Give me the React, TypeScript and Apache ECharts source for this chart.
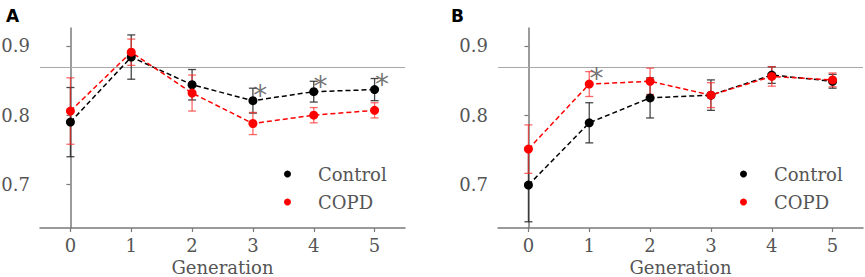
import React, { useEffect, useRef } from "react";
import * as echarts from "echarts";

const generations = [0, 1, 2, 3, 4, 5];
const tickValuesY = [0.7, 0.8, 0.9];
const referenceLevel = 0.866;

const controlA = [0.79, 0.884, 0.844, 0.821, 0.834, 0.837];
const controlAErr = [0.05, 0.032, 0.022, 0.018, 0.015, 0.016];
const copdA = [0.806, 0.891, 0.832, 0.788, 0.8, 0.807];
const copdAErr = [0.048, 0.019, 0.026, 0.016, 0.011, 0.011];

const controlB = [0.699, 0.789, 0.825, 0.829, 0.858, 0.849];
const controlBErr = [0.053, 0.029, 0.029, 0.022, 0.012, 0.01];
const copdB = [0.751, 0.845, 0.849, 0.829, 0.856, 0.851];
const copdBErr = [0.035, 0.018, 0.019, 0.018, 0.014, 0.01];

const starsAX = [3.12, 4.11, 5.12];
const starsAY = [0.838, 0.851, 0.855];
const starsBX = [1.12];
const starsBY = [0.863];

const SERIF = "DejaVu Serif";
const AXIS_GRAY = "#7a7a7a";
const TEXT_GRAY = "#555555";

function errData(vals: number[], errs: number[]) {
  return generations.map((g, i) => [g, vals[i] - errs[i], vals[i] + errs[i]]);
}

function errSeries(idx: number, name: string, vals: number[], errs: number[], color: string) {
  return {
    type: "custom",
    name,
    xAxisIndex: idx,
    yAxisIndex: idx,
    z: 2,
    silent: true,
    data: errData(vals, errs),
    encode: { x: 0, y: [1, 2] },
    renderItem: (params: any, api: any) => {
      const x = api.value(0);
      const lo = api.coord([x, api.value(1)]);
      const hi = api.coord([x, api.value(2)]);
      const cap = 4;
      const style = { stroke: color, lineWidth: 1.3 };
      return {
        type: "group",
        children: [
          { type: "line", shape: { x1: lo[0], y1: lo[1], x2: hi[0], y2: hi[1] }, style },
          { type: "line", shape: { x1: lo[0] - cap, y1: lo[1], x2: lo[0] + cap, y2: lo[1] }, style },
          { type: "line", shape: { x1: hi[0] - cap, y1: hi[1], x2: hi[0] + cap, y2: hi[1] }, style },
        ],
      };
    },
  };
}

function lineSeries(idx: number, name: string, vals: number[], color: string, withRef: boolean) {
  const s: any = {
    type: "line",
    name,
    xAxisIndex: idx,
    yAxisIndex: idx,
    z: 3,
    data: generations.map((g, i) => [g, vals[i]]),
    symbol: "circle",
    symbolSize: 9,
    itemStyle: { color },
    lineStyle: { color, width: 1.5, type: [5, 3] },
  };
  if (withRef) {
    s.markLine = {
      silent: true,
      symbol: "none",
      label: { show: false },
      lineStyle: { color: "#a8a8a8", width: 1, type: "solid" },
      data: [{ yAxis: referenceLevel }],
      z: 1,
    };
  }
  return s;
}

function starSeries(idx: number, xs: number[], ys: number[]) {
  return {
    type: "scatter",
    xAxisIndex: idx,
    yAxisIndex: idx,
    symbolSize: 1,
    itemStyle: { color: "rgba(0,0,0,0)" },
    silent: true,
    z: 4,
    data: xs.map((x, i) => [x, ys[i]]),
    label: {
      show: true,
      position: "inside",
      formatter: "*",
      color: "#505050",
      fontFamily: "DejaVu Sans",
      fontSize: 28,
      offset: [0, 7],
    },
  };
}

function xAxis(idx: number) {
  return {
    type: "value",
    gridIndex: idx,
    min: -0.5,
    max: 5.5,
    name: "Generation",
    nameLocation: "middle",
    nameGap: 30,
    nameTextStyle: { fontFamily: SERIF, fontSize: 18, color: TEXT_GRAY },
    splitLine: { show: false },
    axisLine: { show: true, lineStyle: { color: AXIS_GRAY, width: 1.5 } },
    axisTick: { show: true, length: 4, customValues: generations, lineStyle: { color: AXIS_GRAY, width: 1.2 } },
    axisLabel: {
      customValues: generations,
      margin: 8,
      fontFamily: SERIF,
      fontSize: 18,
      color: TEXT_GRAY,
    },
  };
}

function yAxis(idx: number) {
  return {
    type: "value",
    gridIndex: idx,
    min: 0.637,
    max: 0.926,
    splitLine: { show: false },
    axisLine: { show: true, lineStyle: { color: AXIS_GRAY, width: 1.5 } },
    axisTick: { show: true, length: 4, customValues: tickValuesY, lineStyle: { color: AXIS_GRAY, width: 1.2 } },
    axisLabel: {
      customValues: tickValuesY,
      formatter: (v: number) => v.toFixed(1),
      margin: 10,
      fontFamily: SERIF,
      fontSize: 18,
      color: TEXT_GRAY,
    },
  };
}

function legend(left: number) {
  return {
    left,
    top: 159,
    orient: "vertical",
    itemWidth: 7,
    itemHeight: 7,
    itemGap: 8,
    icon: "circle",
    selectedMode: false,
    data: [
      { name: "Control", itemStyle: { color: "#000" } },
      { name: "COPD", itemStyle: { color: "#ff0000" } },
    ],
    textStyle: {
      fontFamily: SERIF,
      fontSize: 18,
      lineHeight: 20,
      color: TEXT_GRAY,
      padding: [0, 0, 0, 22],
    },
  };
}

export default function App() {
  const ref = useRef<HTMLDivElement>(null);
  useEffect(() => {
    if (!ref.current) return;
    const chart = echarts.init(ref.current, undefined, { renderer: "svg" });
    chart.setOption({
      animation: false,
      backgroundColor: "#ffffff",
      title: [
        { text: "A", left: 1, top: 2, textStyle: { fontFamily: "DejaVu Sans", fontWeight: "bold", fontSize: 17, color: "#000" } },
        { text: "B", left: 446, top: 2, textStyle: { fontFamily: "DejaVu Sans", fontWeight: "bold", fontSize: 17, color: "#000" } },
      ],
      grid: [
        { left: 40, top: 28, width: 365, height: 200, outerBoundsMode: "none", containLabel: false },
        { left: 498, top: 28, width: 365, height: 200, outerBoundsMode: "none", containLabel: false },
      ],
      xAxis: [xAxis(0), xAxis(1)],
      yAxis: [yAxis(0), yAxis(1)],
      legend: [legend(279), legend(735)],
      series: [
        errSeries(0, "ControlErrA", controlA, controlAErr, "rgba(40,40,40,0.85)"),
        errSeries(0, "COPDErrA", copdA, copdAErr, "rgba(255,40,40,0.7)"),
        lineSeries(0, "Control", controlA, "#000000", true),
        lineSeries(0, "COPD", copdA, "#ff0000", false),
        starSeries(0, starsAX, starsAY),
        errSeries(1, "ControlErrB", controlB, controlBErr, "rgba(40,40,40,0.85)"),
        errSeries(1, "COPDErrB", copdB, copdBErr, "rgba(255,40,40,0.7)"),
        lineSeries(1, "Control", controlB, "#000000", true),
        lineSeries(1, "COPD", copdB, "#ff0000", false),
        starSeries(1, starsBX, starsBY),
      ],
    });
    return () => chart.dispose();
  }, []);
  return (
    <div
      ref={ref}
      style={{ position: "absolute", left: 0, top: 0, width: 865, height: 277 }}
    />
  );
}
